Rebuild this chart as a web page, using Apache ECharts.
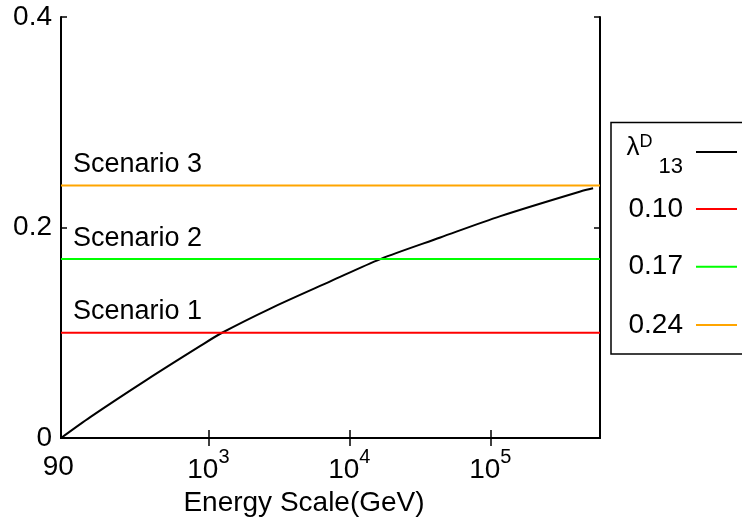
<!DOCTYPE html>
<html>
<head>
<meta charset="utf-8">
<script src="https://cdn.jsdelivr.net/npm/echarts@6.0.0/dist/echarts.min.js"></script>
<style>
    html, body { margin: 0; padding: 0; background: #fff; }
    .chart { width: 742px; height: 519px; }
</style>
</head>
<body>
<div class="chart"></div>
<script>
// 能量标度 (GeV) 与 λ^D_13 的取值，从曲线上读出
let energy = [90, 146, 367, 877, 1250, 2750, 7330, 16600, 44200, 118000, 435000, 536000];
let lambdaD13 = [0, 0.0201, 0.0555, 0.0875, 0.100, 0.1230, 0.1488, 0.170, 0.1905, 0.2108, 0.2342, 0.2372];
let scenarioNames = ['Scenario 1', 'Scenario 2', 'Scenario 3'];
let scenarioValues = [0.10, 0.17, 0.24];
let scenarioColors = ['#ff0000', '#00ff00', '#ffa500'];
let xRange = [90, 600000];
let xTicks = [1000, 10000, 100000];
let yTicks = [0, 0.2, 0.4];

(function() {
    let chartDom = document.querySelector('.chart');
    let myChart = echarts.init(chartDom);
    let font = '"Liberation Sans", Arial, sans-serif';
    let lg = function(v) { return Math.log10(v); };

    let xTickValues = xTicks.map(lg);
    let xLabelValues = [xRange[0]].concat(xTicks).map(lg);

    let lambdaSeries = {
        name: 'lambda',
        type: 'line',
        data: energy.map(function(e, i) { return [lg(e), lambdaD13[i]]; }),
        showSymbol: false,
        smooth: 0.3,
        lineStyle: { color: '#000', width: 2 },
        itemStyle: { color: '#000' },
        z: 2
    };

    // 三条水平线，左端带 Scenario 标注
    let scenarioSeries = scenarioValues.map(function(v, i) {
        return {
            name: v.toFixed(2),
            type: 'line',
            symbol: 'circle',
            symbolSize: 0,
            data: [{
                    value: [lg(xRange[0]), v],
                    label: {
                        show: true,
                        formatter: scenarioNames[i],
                        position: [12, -21],
                        align: 'left',
                        verticalAlign: 'middle',
                        fontSize: 27,
                        fontFamily: font,
                        color: '#000'
                    }
                },
                [lg(xRange[1]), v]
            ],
            lineStyle: { color: scenarioColors[i], width: 2 },
            itemStyle: { color: scenarioColors[i] },
            z: 3
        };
    });

    // 图例：每行一个 legend，右侧对齐
    let legendRich = {
        l: { fontSize: 26, fontFamily: font, color: '#000', verticalAlign: 'middle', padding: [0, 0, 8, 0] },
        d: { fontSize: 18, fontFamily: font, color: '#000', verticalAlign: 'middle', padding: [0, 0, 20, 0] },
        s: { fontSize: 22, fontFamily: font, color: '#000', verticalAlign: 'middle', padding: [30, 0, 0, 6] },
        n: { fontSize: 28, fontFamily: font, color: '#000', verticalAlign: 'middle' }
    };
    let legendNames = ['lambda'].concat(scenarioValues.map(function(v) { return v.toFixed(2); }));
    let legendCenters = [151.7, 209, 266.7, 325];
    let legends = legendNames.map(function(name, i) {
        return {
            orient: 'vertical',
            right: 5,
            top: legendCenters[i] - (i === 0 ? 18.6 : 14),
            align: 'right',
            padding: 0,
            itemWidth: 41,
            itemHeight: 2,
            icon: 'rect',
            selectedMode: false,
            data: [name],
            formatter: function(n) {
                if (n === 'lambda') {
                    return '{l|λ}{d|D}{s|13}';
                }
                return '{n|' + n + '}';
            },
            textStyle: {
                padding: [0, 8, 0, 0],
                rich: legendRich
            }
        };
    });

    let tickStyle = { color: '#000', width: 1.5 };
    let lineStyle = { color: '#000', width: 2 };

    let option = {
        animation: false,
        backgroundColor: '#fff',
        grid: {
            left: 61,
            top: 17,
            right: 142,
            bottom: 81,
            outerBoundsMode: 'none'
        },
        legend: legends,
        graphic: [{
            type: 'rect',
            shape: { x: 611, y: 122.5, width: 150, height: 231.5 },
            style: { fill: 'none', stroke: '#000', lineWidth: 1.5 }
        }],
        xAxis: [{
                type: 'value',
                position: 'bottom',
                min: lg(xRange[0]),
                max: lg(xRange[1]),
                splitLine: { show: false },
                axisLine: { lineStyle: lineStyle },
                axisTick: { inside: true, length: 8, lineStyle: tickStyle, customValues: xTickValues },
                axisLabel: {
                    customValues: xLabelValues,
                    margin: 9,
                    color: '#000',
                    formatter: function(v) {
                        let e = Math.pow(10, v);
                        if (Math.abs(e - xRange[0]) < 1) {
                            return '{c|' + xRange[0] + '}{s| }';
                        }
                        return '{b|10}{s|' + Math.round(v) + '}';
                    },
                    rich: {
                        b: { fontSize: 28, fontFamily: font, color: '#000', verticalAlign: 'middle' },
                        c: { fontSize: 28, fontFamily: font, color: '#000', verticalAlign: 'middle', padding: [0, 0, 6, 0] },
                        s: { fontSize: 20, fontFamily: font, color: '#000', verticalAlign: 'middle', padding: [0, 0, 26, 0] }
                    }
                },
                name: 'Energy Scale(GeV)',
                nameLocation: 'middle',
                nameGap: 45,
                nameTextStyle: {
                    fontSize: 28,
                    fontFamily: font,
                    color: '#000',
                    padding: [0, 53, 0, 0]
                }
            },
            {
                type: 'value',
                position: 'top',
                min: lg(xRange[0]),
                max: lg(xRange[1]),
                splitLine: { show: false },
                axisLine: { lineStyle: lineStyle },
                axisTick: { inside: true, length: 8, lineStyle: tickStyle, customValues: xTickValues },
                axisLabel: { show: false }
            }
        ],
        yAxis: [{
                type: 'value',
                position: 'left',
                min: yTicks[0],
                max: yTicks[yTicks.length - 1],
                interval: yTicks[1] - yTicks[0],
                splitLine: { show: false },
                axisLine: { show: true, lineStyle: lineStyle },
                axisTick: { show: true, inside: true, length: 6, lineStyle: tickStyle },
                axisLabel: {
                    margin: 9,
                    fontSize: 28,
                    fontFamily: font,
                    color: '#000'
                }
            },
            {
                type: 'value',
                position: 'right',
                min: yTicks[0],
                max: yTicks[yTicks.length - 1],
                interval: yTicks[1] - yTicks[0],
                splitLine: { show: false },
                axisLine: { show: true, lineStyle: lineStyle },
                axisTick: { show: true, inside: true, length: 6, lineStyle: tickStyle },
                axisLabel: { show: false }
            }
        ],
        series: [lambdaSeries].concat(scenarioSeries)
    };
    myChart.setOption(option);
    window.addEventListener("resize", function() {
        myChart.resize();
    })
})();
</script>
</body>
</html>
